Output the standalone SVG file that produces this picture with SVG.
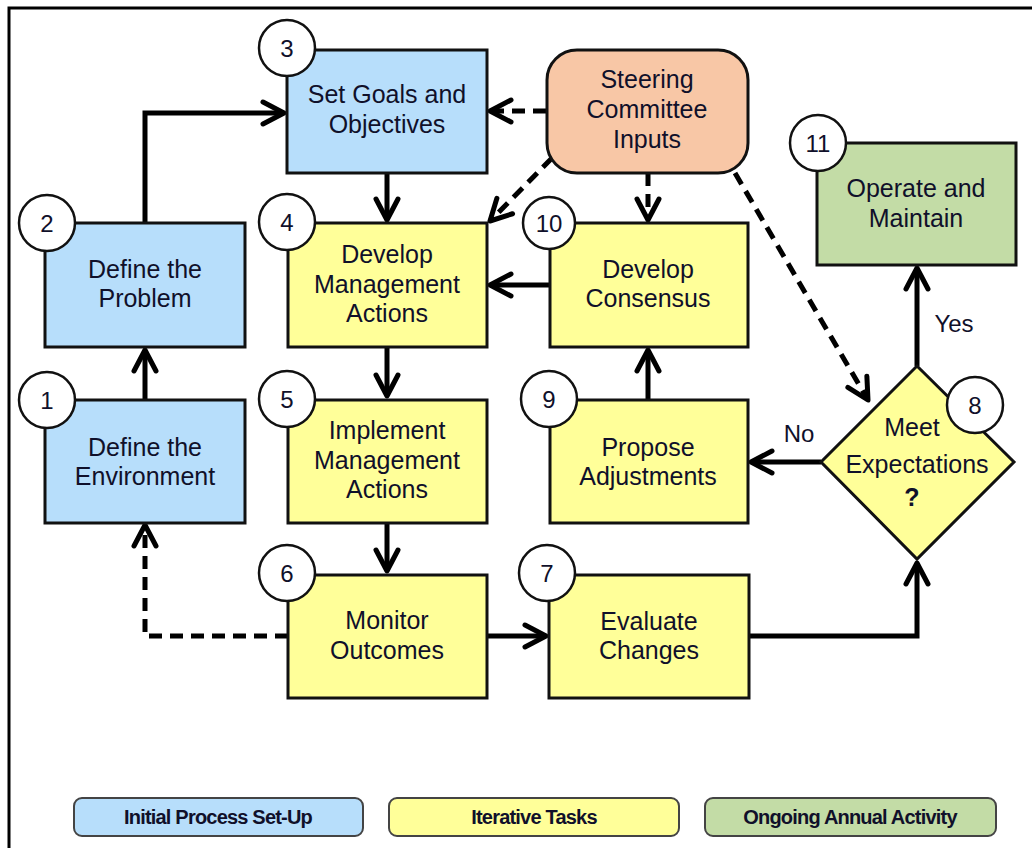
<svg xmlns="http://www.w3.org/2000/svg" width="1032" height="848" viewBox="0 0 1032 848">
<defs>
<style>
.box{stroke:#111;stroke-width:3}
.blue{fill:#b7defb}
.yellow{fill:#ffff99}
.green{fill:#c3dca6}
.peach{fill:#f8c7a6}
.num{fill:#fff;stroke:#111;stroke-width:2.5}
.t{font-family:"Liberation Sans",Arial,sans-serif;font-size:25px;fill:#10102a;text-anchor:middle}
.n{font-family:"Liberation Sans",Arial,sans-serif;font-size:24px;fill:#10102a;text-anchor:middle}
.lg{font-family:"Liberation Sans",Arial,sans-serif;font-size:20px;font-weight:bold;fill:#10102a;text-anchor:middle;letter-spacing:-0.8px}
.leg{stroke:#444;stroke-width:2}
.c{fill:none;stroke:#000;stroke-width:5;stroke-linejoin:miter}
.d{fill:none;stroke:#000;stroke-width:5;stroke-dasharray:13 8}
</style>
<marker id="ah" markerUnits="userSpaceOnUse" markerWidth="40" markerHeight="40" viewBox="-30 -20 40 40" refX="0" refY="0" orient="auto">
<path d="M-21,-11 L0,0 L-21,11" fill="none" stroke="#000" stroke-width="5" stroke-linecap="round" stroke-linejoin="round"/>
</marker>
</defs>
<rect width="1032" height="848" fill="#fff"/>
<path d="M9,848 V8 H1032" fill="none" stroke="#000" stroke-width="3"/>

<g id="connectors">
<path class="c" d="M145,223 V113 H284" marker-end="url(#ah)"/>
<path class="c" d="M145,399 V350" marker-end="url(#ah)"/>
<path class="d" d="M546,111 H490" marker-end="url(#ah)"/>
<path class="d" d="M552,158 L490,221" marker-end="url(#ah)"/>
<path class="d" d="M648,173 V220" marker-end="url(#ah)"/>
<path class="d" d="M735,173 L868,400" marker-end="url(#ah)"/>
<path class="c" d="M387,173 V220" marker-end="url(#ah)"/>
<path class="c" d="M549,285 H490" marker-end="url(#ah)"/>
<path class="c" d="M387,348 V396" marker-end="url(#ah)"/>
<path class="c" d="M648,399 V350" marker-end="url(#ah)"/>
<path class="c" d="M387,523 V571" marker-end="url(#ah)"/>
<path class="d" d="M288,636 H145 V525" marker-end="url(#ah)"/>
<path class="c" d="M487,636 H546" marker-end="url(#ah)"/>
<path class="c" d="M749,636 H917 V563" marker-end="url(#ah)"/>
<path class="c" d="M821,462 H751" marker-end="url(#ah)"/>
<path class="c" d="M917,366 V268" marker-end="url(#ah)"/>
<text class="n" x="799" y="442">No</text>
<text class="n" x="954" y="332">Yes</text>
</g>

<g id="node3">
<rect class="box blue" x="287" y="50" width="200" height="123"/>
<text class="t" x="387" y="103">Set Goals and</text>
<text class="t" x="387" y="133">Objectives</text>
<circle class="num" cx="287" cy="48" r="28"/>
<text class="n" x="287" y="57">3</text>
</g>

<g id="steering">
<rect class="box peach" x="547" y="50" width="201" height="123" rx="30"/>
<text class="t" x="647" y="88">Steering</text>
<text class="t" x="647" y="118">Committee</text>
<text class="t" x="647" y="148">Inputs</text>
</g>

<g id="node2">
<rect class="box blue" x="45" y="223" width="200" height="124"/>
<text class="t" x="145" y="278">Define the</text>
<text class="t" x="145" y="307">Problem</text>
<circle class="num" cx="47" cy="223" r="28"/>
<text class="n" x="47" y="232">2</text>
</g>

<g id="node4">
<rect class="box yellow" x="288" y="223" width="199" height="124"/>
<text class="t" x="387" y="263">Develop</text>
<text class="t" x="387" y="293">Management</text>
<text class="t" x="387" y="322">Actions</text>
<circle class="num" cx="287" cy="222" r="28"/>
<text class="n" x="287" y="231">4</text>
</g>

<g id="node10">
<rect class="box yellow" x="550" y="223" width="198" height="124"/>
<text class="t" x="648" y="278">Develop</text>
<text class="t" x="648" y="307">Consensus</text>
<circle class="num" cx="549" cy="223" r="26"/>
<text class="n" x="549" y="232">10</text>
</g>

<g id="node11">
<rect class="box green" x="817" y="143" width="199" height="122"/>
<text class="t" x="916" y="197">Operate and</text>
<text class="t" x="916" y="227">Maintain</text>
<circle class="num" cx="818" cy="143" r="28"/>
<text class="n" x="818" y="152">11</text>
</g>

<g id="node1">
<rect class="box blue" x="45" y="400" width="200" height="123"/>
<text class="t" x="145" y="456">Define the</text>
<text class="t" x="145" y="485">Environment</text>
<circle class="num" cx="47" cy="400" r="28"/>
<text class="n" x="47" y="409">1</text>
</g>

<g id="node5">
<rect class="box yellow" x="288" y="400" width="199" height="123"/>
<text class="t" x="387" y="439">Implement</text>
<text class="t" x="387" y="469">Management</text>
<text class="t" x="387" y="498">Actions</text>
<circle class="num" cx="287" cy="399" r="28"/>
<text class="n" x="287" y="408">5</text>
</g>

<g id="node9">
<rect class="box yellow" x="550" y="400" width="198" height="123"/>
<text class="t" x="648" y="456">Propose</text>
<text class="t" x="648" y="485">Adjustments</text>
<circle class="num" cx="549" cy="399" r="28"/>
<text class="n" x="549" y="408">9</text>
</g>

<g id="node8">
<path class="box yellow" d="M917,366 L1014,462 L917,559 L821,462 Z"/>
<text class="t" x="912" y="436">Meet</text>
<text class="t" x="917" y="473">Expectations</text>
<text class="t" x="912" y="506" font-weight="bold">?</text>
<circle class="num" cx="975" cy="405" r="28"/>
<text class="n" x="975" y="414">8</text>
</g>

<g id="node6">
<rect class="box yellow" x="288" y="575" width="199" height="123"/>
<text class="t" x="387" y="629">Monitor</text>
<text class="t" x="387" y="659">Outcomes</text>
<circle class="num" cx="287" cy="573" r="28"/>
<text class="n" x="287" y="582">6</text>
</g>

<g id="node7">
<rect class="box yellow" x="549" y="575" width="200" height="123"/>
<text class="t" x="649" y="630">Evaluate</text>
<text class="t" x="649" y="659">Changes</text>
<circle class="num" cx="547" cy="573" r="28"/>
<text class="n" x="547" y="582">7</text>
</g>

<g id="legend">
<rect class="leg blue" x="74" y="798" width="289" height="38" rx="8"/>
<text class="lg" x="218" y="824">Initial Process Set-Up</text>
<rect class="leg yellow" x="389" y="798" width="290" height="38" rx="8"/>
<text class="lg" x="534" y="824">Iterative  Tasks</text>
<rect class="leg green" x="705" y="798" width="291" height="38" rx="8"/>
<text class="lg" x="850" y="824">Ongoing Annual Activity</text>
</g>
</svg>
